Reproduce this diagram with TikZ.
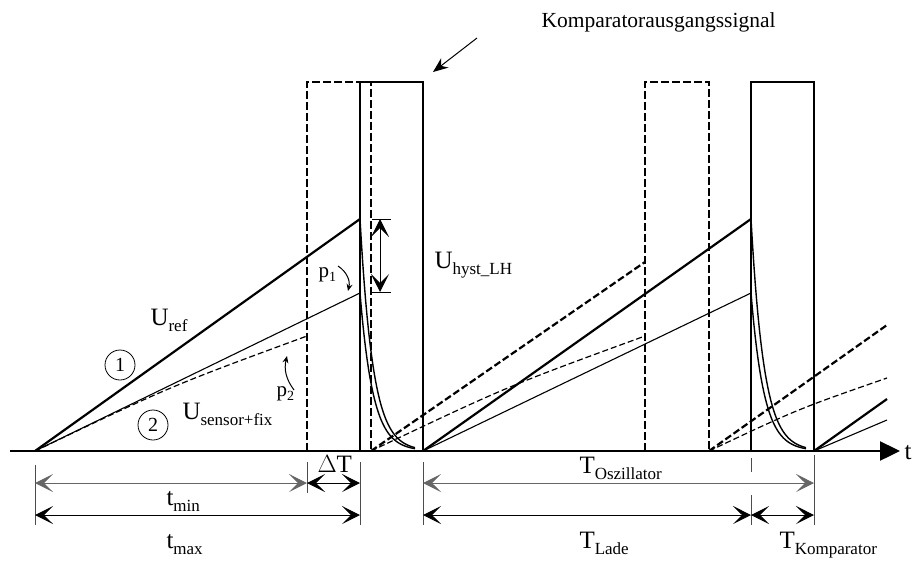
\documentclass[tikz,border=0pt]{standalone}
\usepackage{fontspec}
\setmainfont{Liberation Serif}
\usetikzlibrary{arrows.meta}
\newcommand{\sigsub}[2]{{\fontsize{25}{25}\selectfont #1}\raisebox{-6pt}{\fontsize{17}{17}\selectfont #2}}
\newcommand{\psub}[2]{{\fontsize{21}{21}\selectfont #1}\raisebox{-4pt}{\fontsize{14}{14}\selectfont #2}}

\begin{document}
\begin{tikzpicture}[x=1pt,y=-1pt,line width=1pt,
  thick line/.style={line width=2.2pt},
  thin line/.style={line width=1.1pt},
  decay/.style={line width=1.4pt},
  pulse/.style={line width=2.2pt},
  pulse dashed/.style={line width=2pt,dash pattern=on 8pt off 3pt},
  ramp dashed/.style={line width=1.2pt,dash pattern=on 6pt off 3pt},
  ramp dashed thick/.style={line width=2.2pt,dash pattern=on 7pt off 3pt},
  dim/.style={line width=1pt,{Stealth[length=18pt,width=18pt,inset=9pt]}-{Stealth[length=18pt,width=18pt,inset=9pt]}},
  ext/.style={line width=.8pt,black!70},
  lbl/.style={anchor=base west,inner sep=0pt}]
\path[use as bounding box] (0,0) rectangle (912,560);
% comparator pulses
\draw[pulse dashed] (307,451) -- (307,82) -- (371,82) -- (371,451);
\draw[pulse dashed] (645,451) -- (645,82) -- (709,82) -- (709,451);
\draw[pulse] (360,451) -- (360,82) -- (423,82) -- (423,451);
\draw[pulse] (751,451) -- (751,82) -- (814,82) -- (814,451);
% ramps
\draw[thick line] (35,451) -- (360,219);
\draw[thin line] (35,451) -- (360,293);
\draw[ramp dashed] (35,451) .. controls (171,386) .. (307,336);
\draw[ramp dashed thick] (371,451) -- (645,262);
\draw[ramp dashed] (371,451) .. controls (508,386) .. (645,336);
\draw[thick line] (423,451) -- (751,219);
\draw[thin line] (423,451) -- (751,293);
\draw[ramp dashed thick] (709,451) -- (887,325);
\draw[ramp dashed] (709,451) .. controls (798,409) .. (887,378);
\draw[thick line] (814,451) -- (887,399);
\draw[thin line] (814,451) -- (887,420);
% discharge
\foreach \s in {360,751}{
  \draw[decay] plot[domain=0:55,samples=40] ({\s+\x},{451-232*exp(-\x/13)});
  \draw[decay] plot[domain=0:55,samples=40] ({\s+\x},{451-158*exp(-\x/13)});
}
% time axis
\draw[line width=2.4pt,-{Triangle[length=20pt,width=19pt]}] (10,451) -- (900,451);
\node[lbl,font=\fontsize{25}{25}\selectfont] (t) at (904,459) {t};
% hysteresis
\draw[line width=.8pt] (372,219) -- (391,219) (372,292) -- (391,292);
\draw[dim] (380,219) -- (380,292);
\node[lbl] (hyst) at (434,268) {\sigsub{U}{hyst\_LH}};
% signal labels
\node[lbl] (uref) at (150,325) {\sigsub{U}{ref}};
\node[lbl] (usens) at (182,419) {\sigsub{U}{sensor+fix}};
\node[draw,circle,line width=.8pt,minimum size=30pt,inner sep=0pt,font=\fontsize{20}{20}\selectfont] (c1) at (120,365) {1};
\node[draw,circle,line width=.8pt,minimum size=30pt,inner sep=0pt,font=\fontsize{20}{20}\selectfont] (c2) at (153,425) {2};
\node[lbl] (p1) at (318,277) {\psub{p}{1}};
\node[lbl] (p2) at (276,396) {\psub{p}{2}};
\draw[line width=1pt,-{Stealth[length=7pt,width=6pt]}] (338,266) to[bend left=35] (348,291);
\draw[line width=1pt,-{Stealth[length=7pt,width=6pt]}] (294,390) to[bend left=25] (287,356);
% comparator output
\node[lbl,font=\fontsize{21.5}{22}\selectfont] (komp) at (541,27) {Komparatorausgangssignal};
\draw[line width=1pt,-{Stealth[length=15pt,width=12pt,inset=5pt]}] (477,38) -- (433,72);
% extension lines
\draw[ext] (35,465) -- (35,525);
\draw[ext] (307,462) -- (307,493);
\draw[ext] (360,462) -- (360,525);
\draw[ext] (423,462) -- (423,525);
\draw[ext] (751,458) -- (751,472) (751,495) -- (751,525);
\draw[ext] (814,455) -- (814,525);
% dimensions
\draw[dim,black!60] (35,483) -- (307,483);
\draw[dim] (307,483) -- (360,483);
\draw[dim] (35,515) -- (360,515);
\draw[dim,black!60] (423,483) -- (814,483);
\draw[dim] (423,515) -- (751,515);
\draw[dim] (751,515) -- (814,515);
\node[lbl] (tmin) at (166,505) {\sigsub{t}{min}};
\node[lbl] (tmax) at (166,548) {\sigsub{t}{max}};
\node[lbl,font=\fontsize{25}{25}\selectfont] (dT) at (317,472) {$\Delta$T};
\node[lbl] (tosz) at (579,473) {\sigsub{T}{Oszillator}};
\node[lbl] (tlade) at (579,548) {\sigsub{T}{Lade}};
\node[lbl] (tkomp) at (779,548) {\sigsub{T}{Komparator}};
\end{tikzpicture}
\end{document}
